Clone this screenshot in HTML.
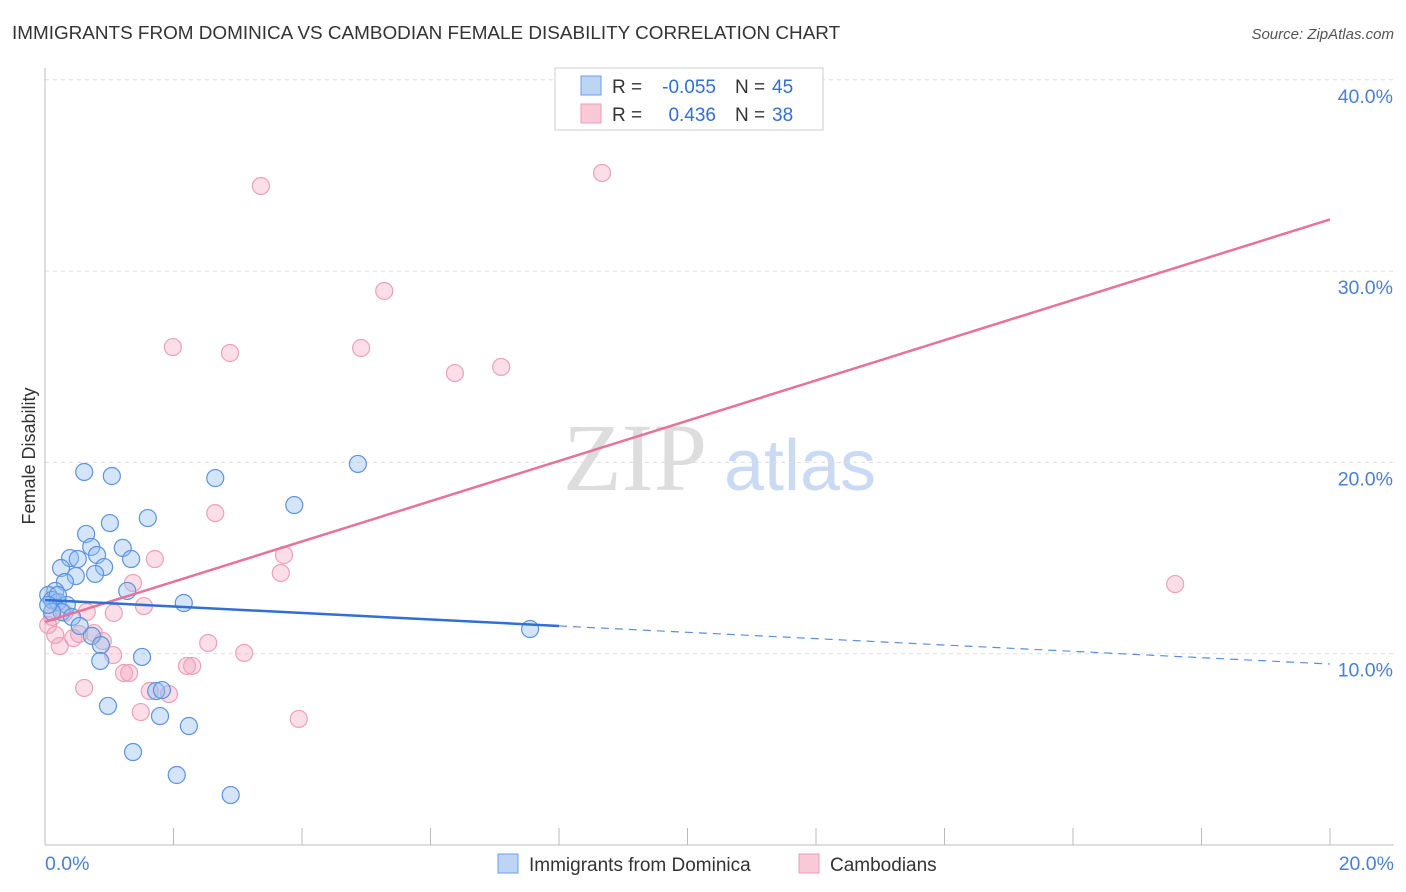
<!DOCTYPE html>
<html><head><meta charset="utf-8"><style>
body{margin:0;background:#fff;font-family:"Liberation Sans",sans-serif}
svg{display:block}
</style></head><body>
<svg id="chart" width="1406" height="892">
<text x="12" y="39" font-size="18.9" fill="#333">IMMIGRANTS FROM DOMINICA VS CAMBODIAN FEMALE DISABILITY CORRELATION CHART</text>
<text x="1394" y="39" font-size="15" fill="#555" font-style="italic" text-anchor="end">Source: ZipAtlas.com</text>
<text x="35" y="456" font-size="18" fill="#333" transform="rotate(-90 35 456)" text-anchor="middle">Female Disability</text>
<g><text x="635" y="490" font-size="96" fill="#ddd" font-family="Liberation Serif" text-anchor="middle">ZIP</text><text x="800" y="490" font-size="72" fill="#c9daf2" text-anchor="middle">atlas</text></g>
<g id="grid"></g><g id="pts"></g><g id="lines"></g>
<g>
<rect x="555" y="68" width="268" height="62" fill="#fff" stroke="#ccc"/>
<rect x="581" y="76" width="20" height="19" fill="#bcd5f5" stroke="#6b9ee8"/>
<rect x="581" y="104" width="20" height="19" fill="#f9c9d8" stroke="#ec9bb6"/>
<text x="612" y="93" font-size="19" fill="#333">R =</text>
<text x="716" y="93" font-size="19" fill="#2f6fd6" text-anchor="end">-0.055</text>
<text x="735" y="93" font-size="19" fill="#333">N =</text>
<text x="772" y="93" font-size="19" fill="#2f6fd6">45</text>
<text x="612" y="121" font-size="19" fill="#333">R =</text>
<text x="716" y="121" font-size="19" fill="#2f6fd6" text-anchor="end">0.436</text>
<text x="735" y="121" font-size="19" fill="#333">N =</text>
<text x="772" y="121" font-size="19" fill="#2f6fd6">38</text>
</g>
<g>
<rect x="498" y="854" width="20" height="19" fill="#bcd5f5" stroke="#6b9ee8"/>
<text x="529" y="871" font-size="19" fill="#333">Immigrants from Dominica</text>
<rect x="799" y="854" width="20" height="19" fill="#f9c9d8" stroke="#ec9bb6"/>
<text x="830" y="871" font-size="19" fill="#333">Cambodians</text>
</g>
</svg>
<script>
const xTicks=[0,2,4,6,8,10,12,14,16,18,20];
const yTicks=[10,20,30,40];
const blueX=[0.61,1.04,2.65,4.87,3.88,1.01,1.60,0.64,0.72,1.21,0.39,0.51,0.81,1.34,0.25,0.92,0.48,0.78,0.31,1.28,0.16,0.05,0.11,0.20,0.34,0.26,0.42,0.54,2.16,7.55,0.73,0.87,0.86,1.51,0.98,1.79,2.24,1.37,2.05,2.89,1.73,1.82,0.11,0.20,0.05];
const blueY=[19.50,19.29,19.18,19.92,17.77,16.83,17.09,16.26,15.58,15.53,15.00,14.95,15.16,14.95,14.48,14.53,14.06,14.17,13.75,13.28,13.28,13.07,12.81,12.70,12.55,12.18,11.92,11.45,12.65,11.29,10.93,10.45,9.62,9.83,7.27,6.74,6.22,4.86,3.66,2.61,8.05,8.10,12.18,13.07,12.55];
const pinkX=[3.36,8.67,5.28,1.99,2.88,4.92,6.38,7.10,17.59,2.65,1.71,3.72,3.67,1.37,1.54,1.07,0.65,0.11,0.05,0.23,0.16,0.44,0.53,0.76,0.90,1.06,1.23,1.31,2.54,3.10,2.21,2.29,0.61,1.63,1.93,1.49,3.95,0.30];
const pinkY=[34.45,35.13,28.96,26.03,25.72,25.98,24.67,24.99,13.64,17.35,14.95,15.16,14.22,13.70,12.49,12.13,12.18,11.92,11.50,10.40,10.98,10.82,11.03,11.08,10.66,9.93,8.99,8.99,10.56,10.04,9.36,9.36,8.21,8.05,7.89,6.95,6.59,12.13];
const blueTrend=[12.81,11.45,9.46];
const blueTrendX=[0,8,20];
const pinkTrend=[11.66,32.7];
const pinkTrendX=[0,20];
const NS='http://www.w3.org/2000/svg';
const X=v=>45+v/20*1285, Y=v=>845-v/10*191.3;
function mk(t,a,p){const e=document.createElementNS(NS,t);for(const k in a)e.setAttribute(k,a[k]);p.appendChild(e);return e;}
const g=document.getElementById('grid');
for(const t of yTicks){
 const l=mk('line',{x1:45,x2:1394,y1:Y(t),y2:Y(t),stroke:'#ddd','stroke-dasharray':'4,4'},g);
 
 
 const tx=mk('text',{x:1393,y:Y(t)+23,'font-size':19.5,fill:'#4a7fd4','text-anchor':'end'},g);tx.textContent=t.toFixed(1)+'%';
 
 
}
mk('line',{x1:45,x2:45,y1:68,y2:845,stroke:'#bbb'},g);
mk('line',{x1:45,x2:1394,y1:845,y2:845,stroke:'#bbb'},g);
for(const t of xTicks){
 const l=mk('line',{x1:X(t),x2:X(t),y1:828,y2:845,stroke:'#bbb'},g);
 
 
}
const xl=mk('text',{x:45,y:870,'font-size':19.5,fill:'#4a7fd4'},g);xl.textContent='0.0%';


const xr=mk('text',{x:1394,y:870,'font-size':19.5,fill:'#4a7fd4','text-anchor':'end'},g);xr.textContent='20.0%';


const p=document.getElementById('pts');
pinkX.forEach((v,i)=>{const c=mk('circle',{cx:X(v),cy:Y(pinkY[i]),r:8.5,fill:'rgba(244,160,188,0.35)',stroke:'#eea0ba','stroke-width':1.2},p);
 
 });
blueX.forEach((v,i)=>{const c=mk('circle',{cx:X(v),cy:Y(blueY[i]),r:8.5,fill:'rgba(150,190,240,0.4)',stroke:'#5b93e0','stroke-width':1.2},p);
 
 });
const L=document.getElementById('lines');
const pl=mk('line',{x1:X(pinkTrendX[0]),y1:Y(pinkTrend[0]),x2:X(pinkTrendX[1]),y2:Y(pinkTrend[1]),stroke:'#e8739a','stroke-width':2.5},L);


const bl=mk('line',{x1:X(blueTrendX[0]),y1:Y(blueTrend[0]),x2:X(blueTrendX[1]),y2:Y(blueTrend[1]),stroke:'#2f6fd6','stroke-width':2.5},L);


const bd=mk('line',{x1:X(blueTrendX[1]),y1:Y(blueTrend[1]),x2:X(blueTrendX[2]),y2:Y(blueTrend[2]),stroke:'#5b8fdc','stroke-width':1.2,'stroke-dasharray':'8,6'},L);


</script>
</body></html>
